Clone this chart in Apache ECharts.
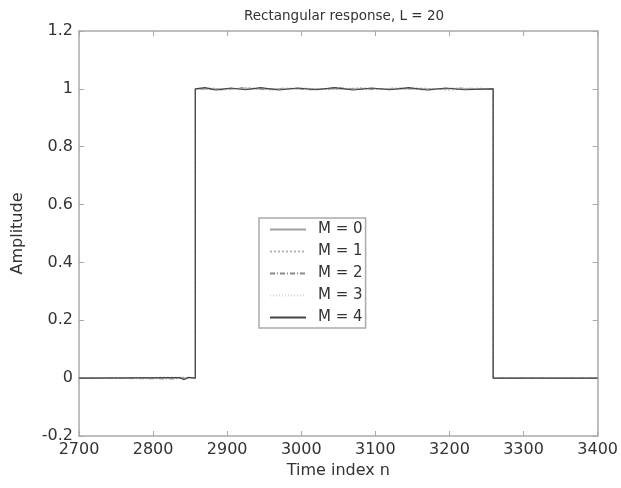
<!DOCTYPE html>
<html>
<head>
<meta charset="utf-8">
<script src="https://cdn.jsdelivr.net/npm/echarts@6/dist/echarts.min.js"></script>
<style>html,body{margin:0;padding:0;background:#fff}#c{width:621px;height:488px}</style>
</head>
<body>
<div id="c"></div>
<script>
var titleText = 'Rectangular response, L = 20';
var xTicks = [2700, 2800, 2900, 3000, 3100, 3200, 3300, 3400];
var yTicks = [-0.2, 0, 0.2, 0.4, 0.6, 0.8, 1, 1.2];
var seriesNames = ['M = 0', 'M = 1', 'M = 2', 'M = 3', 'M = 4'];

var n0 = [2700, 2857, 2857, 3259, 3259, 3400];
var y0 = [0, 0, 1, 1, 0, 0];
var n1 = [2700, 2840, 2845, 2850, 2857, 2857, 2880, 2900, 2930, 2960, 3000, 3040, 3080, 3120, 3160, 3200, 3240, 3259, 3259, 3400];
var y1 = [0, 0.003, -0.004, 0.002, 0, 1, 1.003, 0.997, 1.004, 0.996, 1.003, 0.997, 1.004, 0.997, 1.003, 0.996, 1.002, 1, 0, 0];
var n2 = [2700, 2830, 2840, 2857, 2857, 2890, 2920, 2950, 2980, 3010, 3050, 3090, 3130, 3170, 3210, 3259, 3259, 3400];
var y2 = [0, -0.003, 0.003, 0, 1, 0.996, 1.004, 0.997, 1.003, 0.996, 1.004, 0.997, 1.003, 0.996, 1.003, 1, 0, 0];
var n3 = [2700, 2857, 2857, 3259, 3259, 3400];
var y3 = [0, 0, 1, 1, 0, 0];
var n4 = [2700, 2835, 2842, 2848, 2857, 2857, 2870, 2885, 2905, 2925, 2945, 2970, 2995, 3020, 3045, 3070, 3095, 3120, 3145, 3170, 3195, 3220, 3259, 3259, 3400];
var y4 = [0, 0.002, -0.005, 0.003, 0, 1, 1.004, 0.996, 1.003, 0.997, 1.004, 0.996, 1.003, 0.997, 1.004, 0.996, 1.003, 0.997, 1.004, 0.996, 1.003, 0.997, 1, 0, 0];

function pairs(xs, ys) { return xs.map(function (x, i) { return [x, ys[i]]; }); }

var styles = [
  { color: '#a0a0a0', type: 'solid', width: 1 },
  { color: '#b4b4b4', type: [2, 2], width: 1.2 },
  { color: '#8a8a8a', type: [5, 2, 1, 2], width: 1 },
  { color: '#d8d8d8', type: [1, 2], width: 1 },
  { color: '#444444', type: 'solid', width: 1.2 }
];
var xs = [n0, n1, n2, n3, n4];
var ys = [y0, y1, y2, y3, y4];

var font = 'DejaVu Sans, Verdana, sans-serif';
var axisCommon = {
  axisLine: { show: true, onZero: false, lineStyle: { color: '#aaa', width: 1.5 } },
  axisTick: { show: true, inside: true, length: 5, lineStyle: { color: '#aaa' } },
  splitLine: { show: false }
};

var chart = echarts.init(document.getElementById('c'));
chart.setOption({
  animation: false,
  backgroundColor: '#fff',
  title: {
    text: titleText, left: 339, top: 4, textAlign: 'center',
    textStyle: { fontFamily: font, fontSize: 13.5, fontWeight: 'normal', color: '#333' }
  },
  grid: { left: 79, right: 22, top: 31, bottom: 52 },
  legend: {
    orient: 'vertical', left: 259, top: 218,
    data: seriesNames,
    backgroundColor: '#fff', borderColor: '#aaa', borderWidth: 1.5,
    padding: [4, 3, 3, 10],
    itemWidth: 36, itemHeight: 14, itemGap: 7,
    itemStyle: { opacity: 0 },
    textStyle: { fontFamily: font, fontSize: 15, color: '#333', padding: [0, 0, 0, 7] }
  },
  xAxis: [
    Object.assign({
      type: 'value', min: 2700, max: 3400, interval: 100, position: 'bottom',
      name: 'Time index n', nameLocation: 'middle', nameGap: 26,
      nameTextStyle: { fontFamily: font, fontSize: 16, color: '#333' },
      axisLabel: { fontFamily: font, fontSize: 16, color: '#333', margin: 6,
        formatter: function (v) { return xTicks.indexOf(v) >= 0 ? String(v) : ''; } }
    }, axisCommon),
    Object.assign({
      type: 'value', min: 2700, max: 3400, interval: 100, position: 'top',
      axisLabel: { show: false }
    }, axisCommon)
  ],
  yAxis: [
    Object.assign({
      type: 'value', min: -0.2, max: 1.2, interval: 0.2, position: 'left',
      name: 'Amplitude', nameLocation: 'middle', nameGap: 53,
      nameTextStyle: { fontFamily: font, fontSize: 16, color: '#333' },
      axisLabel: { fontFamily: font, fontSize: 16, color: '#333', margin: 6,
        formatter: function (v) { var r = Math.round(v * 10) / 10; return yTicks.indexOf(r) >= 0 ? String(r) : ''; } }
    }, axisCommon),
    Object.assign({
      type: 'value', min: -0.2, max: 1.2, interval: 0.2, position: 'right',
      axisLabel: { show: false }
    }, axisCommon)
  ],
  series: seriesNames.map(function (name, i) {
    return {
      name: name, type: 'line', xAxisIndex: 0, yAxisIndex: 0,
      showSymbol: false, symbol: 'none',
      data: pairs(xs[i], ys[i]),
      lineStyle: styles[i], itemStyle: { color: styles[i].color },
      z: i === 0 || i === 4 ? 3 : 2
    };
  })
});
</script>
</body>
</html>
